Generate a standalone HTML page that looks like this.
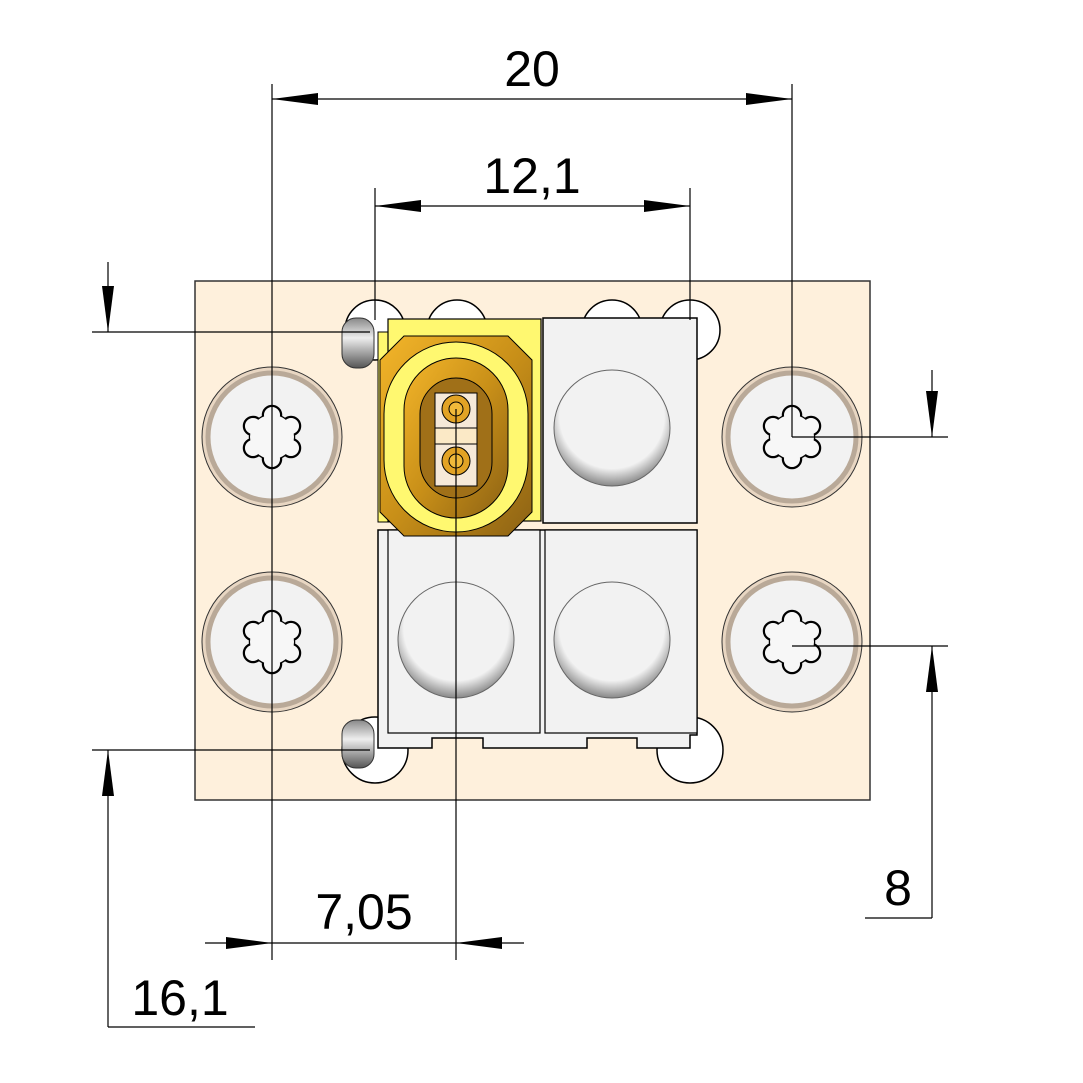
<!DOCTYPE html>
<html><head><meta charset="utf-8"><style>body{margin:0;background:#fff}svg{display:block}text{font-family:"Liberation Sans",sans-serif;font-size:50px;fill:#000}</style></head><body>
<svg width="1083" height="1083" viewBox="0 0 1083 1083" xmlns="http://www.w3.org/2000/svg">
<defs>
<radialGradient id="hole" cx="50%" cy="40%" r="60%"><stop offset="0.75" stop-color="#f2f2f2"/><stop offset="1" stop-color="#888"/></radialGradient>
<linearGradient id="pin" x1="0" y1="0" x2="0" y2="1"><stop offset="0" stop-color="#888"/><stop offset="0.4" stop-color="#eee"/><stop offset="1" stop-color="#555"/></linearGradient>
<linearGradient id="gold" x1="0" y1="0" x2="1" y2="1"><stop offset="0" stop-color="#f3b52a"/><stop offset="0.5" stop-color="#c88f18"/><stop offset="1" stop-color="#8c6214"/></linearGradient>
<g id="screw">
<circle r="70" fill="#e8d6c2" stroke="#333" stroke-width="1"/>
<circle r="64" fill="#f2f2f2" stroke="#b9a998" stroke-width="5"/>
<g stroke="#000" stroke-width="2.5" fill="#fff">
<circle r="22"/><circle cx="0" cy="-22" r="9"/><circle cx="19" cy="-11" r="9"/><circle cx="19" cy="11" r="9"/><circle cx="0" cy="22" r="9"/><circle cx="-19" cy="11" r="9"/><circle cx="-19" cy="-11" r="9"/>
</g>
<g fill="#f7f7f7">
<circle r="22"/><circle cx="0" cy="-22" r="8"/><circle cx="19" cy="-11" r="8"/><circle cx="19" cy="11" r="8"/><circle cx="0" cy="22" r="8"/><circle cx="-19" cy="11" r="8"/><circle cx="-19" cy="-11" r="8"/>
</g>
</g>
</defs>
<rect x="195" y="281" width="675" height="519" fill="#fef0dc" stroke="#333" stroke-width="1.5"/>
<use href="#screw" x="272" y="437"/><use href="#screw" x="272" y="642"/><use href="#screw" x="792" y="437"/><use href="#screw" x="792" y="642"/>
<g fill="#fff" stroke="#000" stroke-width="1.5">
<circle cx="375" cy="330" r="30"/><circle cx="457" cy="330" r="30"/><circle cx="612" cy="330" r="30"/><circle cx="690" cy="330" r="30"/>
<circle cx="375" cy="750" r="33"/><circle cx="690" cy="750" r="33"/>
</g>
<rect x="342" y="318" width="32" height="50" rx="14" fill="url(#pin)" stroke="#333"/>
<rect x="342" y="720" width="32" height="48" rx="14" fill="url(#pin)" stroke="#333"/>
<path d="M378 735 V530 H697 V735 H690 V748 H637 V738 H587 V748 H483 V738 H432 V748 H378Z" fill="#f2f2f2" stroke="#000" stroke-width="1.5"/>
<rect x="543" y="318" width="154" height="205" fill="#f2f2f2" stroke="#000" stroke-width="1.5"/>
<rect x="388" y="530" width="152" height="203" fill="#f2f2f2" stroke="#000" stroke-width="1.2"/>
<rect x="545" y="530" width="152" height="203" fill="#f2f2f2" stroke="#000" stroke-width="1.2"/>
<circle cx="612" cy="428" r="58" fill="url(#hole)" stroke="#666"/>
<circle cx="456" cy="640" r="58" fill="url(#hole)" stroke="#666"/>
<circle cx="612" cy="640" r="58" fill="url(#hole)" stroke="#666"/>
<rect x="378" y="332" width="12" height="190" fill="#fff870" stroke="#000"/>
<rect x="388" y="319" width="153" height="202" fill="#fff870" stroke="#000" stroke-width="1.2"/>
<path d="M404 336 H508 L532 360 V512 L508 536 H404 L380 512 V360Z" fill="url(#gold)" stroke="#000"/>
<rect x="384" y="342" width="144" height="190" rx="72" fill="#fff870" stroke="#000"/>
<rect x="404" y="358" width="104" height="160" rx="52" fill="url(#gold)" stroke="#000"/>
<rect x="420" y="378" width="72" height="120" rx="36" fill="#a07018" stroke="#000"/>
<rect x="435" y="393" width="42" height="93" fill="#f6e9d8" stroke="#000"/>
<rect x="435" y="428" width="42" height="16" fill="#fbe9c6" stroke="#000"/>
<circle cx="456" cy="409" r="14" fill="#e2a325" stroke="#000"/>
<circle cx="456" cy="409" r="7" fill="#f0b93a" stroke="#000"/>
<circle cx="456" cy="461" r="14" fill="#e2a325" stroke="#000"/>
<circle cx="456" cy="461" r="7" fill="#f0b93a" stroke="#000"/>
<g stroke="#000" stroke-width="1.2" fill="none">
<line x1="272" y1="84" x2="272" y2="960"/>
<line x1="792" y1="84" x2="792" y2="437"/><line x1="792" y1="437" x2="948" y2="437"/>
<line x1="792" y1="646" x2="948" y2="646"/>
<line x1="375" y1="188" x2="375" y2="320"/>
<line x1="690" y1="188" x2="690" y2="320"/>
<line x1="456" y1="409" x2="456" y2="960"/>
<line x1="272" y1="99" x2="792" y2="99"/>
<line x1="375" y1="206" x2="690" y2="206"/>
<line x1="205" y1="943" x2="524" y2="943"/>
<line x1="92" y1="332" x2="370" y2="332"/>
<line x1="92" y1="750" x2="370" y2="750"/>
<line x1="108" y1="262" x2="108" y2="332"/>
<line x1="108" y1="750" x2="108" y2="1027"/><line x1="108" y1="1027" x2="255" y2="1027"/>
<line x1="932" y1="370" x2="932" y2="437"/>
<line x1="932" y1="646" x2="932" y2="918"/><line x1="932" y1="918" x2="865" y2="918"/>
</g>
<g fill="#000">
<path d="M272 99 L318 93 L318 105Z"/><path d="M792 99 L746 93 L746 105Z"/>
<path d="M375 206 L421 200 L421 212Z"/><path d="M690 206 L644 200 L644 212Z"/>
<path d="M272 943 L226 937 L226 949Z"/><path d="M456 943 L502 937 L502 949Z"/>
<path d="M108 332 L102 286 L114 286Z"/><path d="M108 750 L102 796 L114 796Z"/>
<path d="M932 437 L926 391 L938 391Z"/><path d="M932 646 L926 692 L938 692Z"/>
</g>
<text x="532" y="86" text-anchor="middle">20</text>
<text x="532" y="193" text-anchor="middle">12,1</text>
<text x="364" y="929" text-anchor="middle">7,05</text>
<text x="180" y="1015" text-anchor="middle">16,1</text>
<text x="898" y="905" text-anchor="middle">8</text>
</svg>
</body></html>
